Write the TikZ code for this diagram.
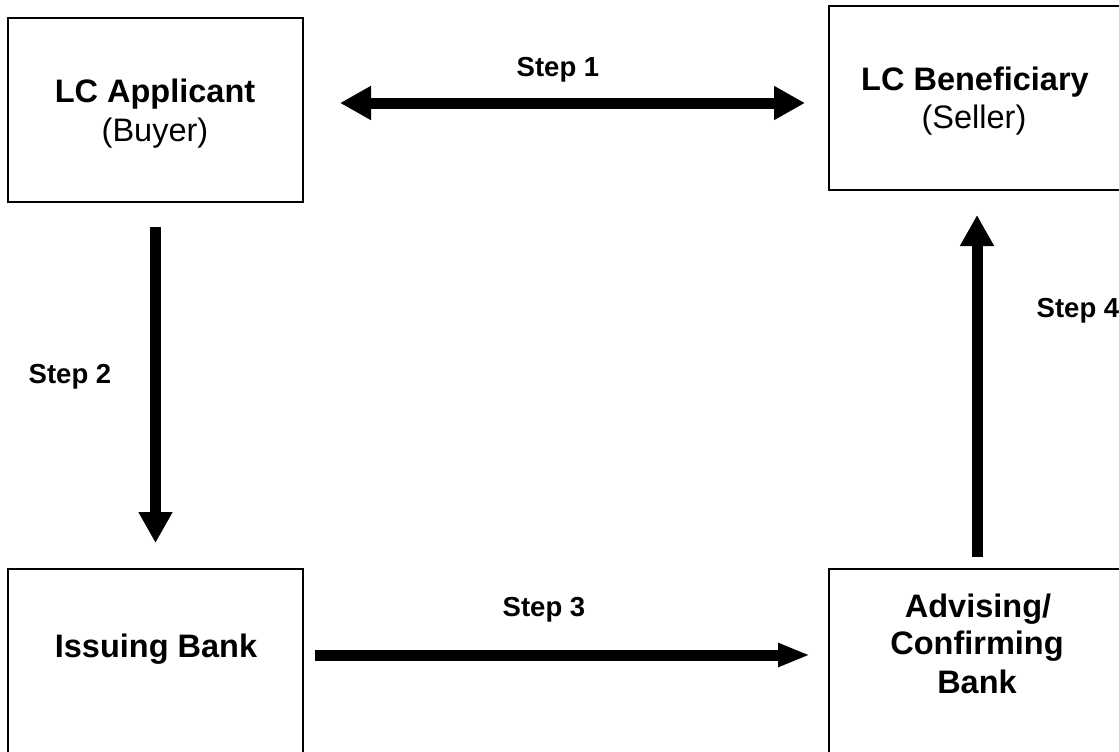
\documentclass[tikz,border=0pt]{standalone}
\usepackage{fontspec}
\setmainfont{Liberation Sans}
\usetikzlibrary{arrows.meta}
\begin{document}
\begin{tikzpicture}[x=1pt,y=-1pt,
  box/.style={draw=black,line width=1.6pt,rectangle,inner sep=0pt},
  title/.style={inner sep=0pt,anchor=base,font=\fontsize{32.5}{39}\selectfont\bfseries},
  sub/.style={inner sep=0pt,anchor=base,font=\fontsize{32.5}{39}\selectfont},
  steplabel/.style={inner sep=0pt,anchor=base,font=\fontsize{27.5}{32}\selectfont\bfseries},
  flow/.style={line width=11pt,-{Triangle[length=31pt,width=32pt]}},
  flowboth/.style={line width=11pt,{Triangle[length=31pt,width=32pt]}-{Triangle[length=31pt,width=32pt]}},
  flownarrow/.style={line width=11pt,-{Triangle[length=32pt,width=22pt]}}]
\useasboundingbox (0,0) rectangle (1119,752);
\clip (0,0) rectangle (1119,752);
\fill[white] (0,0) rectangle (1119,752);
% boxes
\node[box,minimum width=295pt,minimum height=184pt] (appbox) at (155.5,110) {};
\node[box,minimum width=310pt,minimum height=184pt] (benbox) at (984,98) {};
\node[box,minimum width=295pt,minimum height=210pt] (issbox) at (155.5,674) {};
\node[box,minimum width=310pt,minimum height=210pt] (advbox) at (984,674) {};
% texts
\node[title] (apptitle) at (155,102) {LC Applicant};
\node[sub] (appsub) at (155,141) {(Buyer)};
\node[title] (bentitle) at (975,90) {LC Beneficiary};
\node[sub] (bensub) at (974,128) {(Seller)};
\node[title] (isstitle) at (156,657) {Issuing Bank};
\node[title] (adv1) at (978,617) {Advising/};
\node[title] (adv2) at (977,654) {Confirming};
\node[title] (adv3) at (977,693) {Bank};
% step labels
\node[steplabel] (s1) at (558,77) {Step 1};
\node[steplabel] (s2) at (70,383) {Step 2};
\node[steplabel] (s3) at (544,616) {Step 3};
\node[steplabel] (s4) at (1078,317) {Step 4};
% arrow end points
\coordinate (a1l) at (340,103);
\coordinate (a1r) at (805,103);
\coordinate (a2t) at (155.5,227);
\coordinate (a2b) at (155.5,543);
\coordinate (a3l) at (315,655);
\coordinate (a3r) at (810,655);
\coordinate (a4b) at (977,557);
\coordinate (a4t) at (977,215);
% arrows
\draw[flowboth] (a1l) -- (a1r);
\draw[flow] (a2t) -- (a2b);
\draw[flownarrow] (a3l) -- (a3r);
\draw[flow] (a4b) -- (a4t);
\end{tikzpicture}
\end{document}
